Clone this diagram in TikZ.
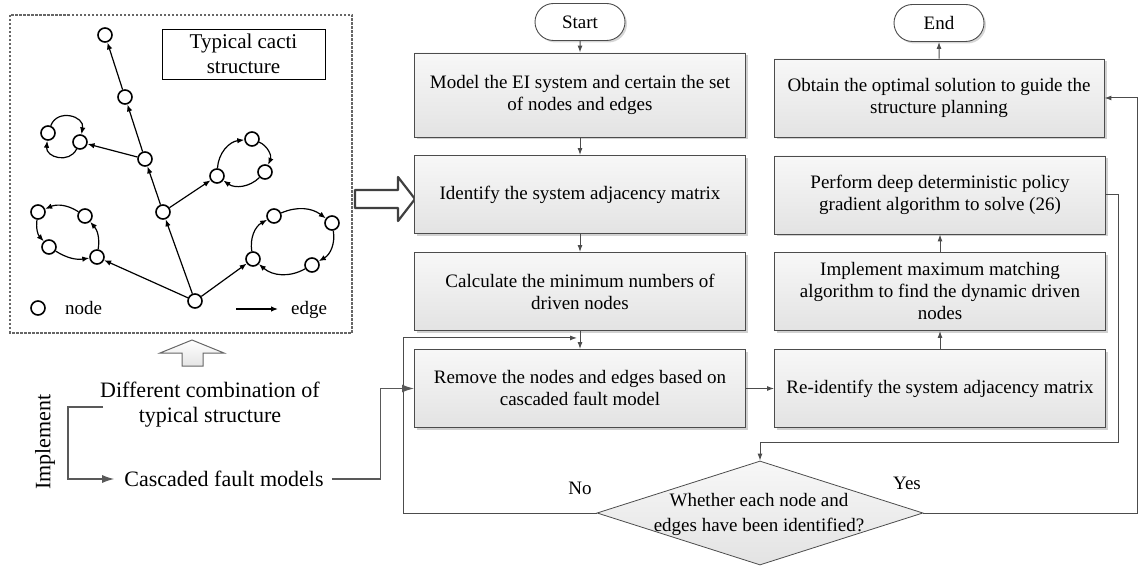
\documentclass[tikz,border=0pt]{standalone}
\usepackage{fontspec}
\setmainfont{Liberation Serif}
\usetikzlibrary{arrows.meta,shapes.geometric,shapes.misc,shadows}

\newcommand{\flowfont}{\fontsize{19}{22}\selectfont}
\newcommand{\sidefont}{\fontsize{22}{25}\selectfont}

\tikzset{
  procbox/.style={draw=black!70, line width=0.9pt, top color=black!3, bottom color=black!11,
    drop shadow={shadow xshift=2.5pt, shadow yshift=-2.5pt, fill=black!40, opacity=0.45},
    minimum width=331pt, minimum height=78pt, inner sep=0pt, align=center, font=\flowfont},
  termbox/.style={rounded rectangle, draw=black!70, line width=0.9pt, fill=white,
    drop shadow={shadow xshift=2pt, shadow yshift=-2pt, fill=black!40, opacity=0.4},
    minimum width=90pt, minimum height=37pt, inner sep=0pt, font=\flowfont},
  decision/.style={diamond, draw=black!70, line width=0.8pt, top color=black!3, bottom color=black!11,
    minimum width=326pt, minimum height=104pt, inner sep=0pt},
  flow/.style={draw=black!70, line width=1pt, -{Latex[length=7pt,width=5pt]}},
  bigflow/.style={flow, draw=black!65, line width=1.3pt, -{Latex[length=12pt,width=8pt]}},
  cnode/.style={circle, draw, line width=1.6pt, fill=white, minimum size=14pt, inner sep=0pt},
  cedge/.style={line width=1.2pt, -{Latex[length=7pt,width=5.5pt]}},
}

\begin{document}
\begin{tikzpicture}[x=1pt,y=1pt]
\useasboundingbox (0,0) rectangle (1138,-569);

% typical cacti structure
\draw[black!60, line width=1.5pt, dash pattern=on 2.5pt off 1.5pt] (10,-15) rectangle (352,-333);
\node[draw, line width=0.8pt, minimum width=163pt, minimum height=50pt, inner sep=0pt, align=center,
  font=\fontsize{21}{25}\selectfont] (title) at (243.5,-54) {Typical cacti\\structure};

\node[cnode] (r0) at (195,-301) {};
\node[cnode] (t1) at (163,-212) {};
\node[cnode] (t2) at (145,-159) {};
\node[cnode] (t3) at (125,-97) {};
\node[cnode] (t4) at (105,-35) {};
\node[cnode] (a1) at (48,-133) {};
\node[cnode] (a2) at (80,-142) {};
\node[cnode] (b1) at (217,-176) {};
\node[cnode] (b2) at (252,-139) {};
\node[cnode] (b3) at (265,-172) {};
\node[cnode] (d1) at (38,-212) {};
\node[cnode] (d2) at (85,-216) {};
\node[cnode] (d3) at (49,-247) {};
\node[cnode] (d4) at (97,-257) {};
\node[cnode] (e1) at (253,-259) {};
\node[cnode] (e2) at (274,-216) {};
\node[cnode] (e3) at (332,-223) {};
\node[cnode] (e4) at (312,-265) {};

\draw[cedge] (r0) -- (t1);
\draw[cedge] (t1) -- (t2);
\draw[cedge] (t2) -- (t3);
\draw[cedge] (t3) -- (t4);
\draw[cedge] (t2) -- (a2);
\draw[cedge] (t1) -- (b1);
\draw[cedge] (r0) -- (d4);
\draw[cedge] (r0) -- (e1);

\draw[cedge] (a1) to[bend left=85, looseness=1.5] (a2);
\draw[cedge] (a2) to[bend left=80, looseness=1.4] (a1);
\draw[cedge] (b1) to[bend left=40] (b2);
\draw[cedge] (b2) to[bend left=45] (b3);
\draw[cedge] (b3) to[bend left=40] (b1);
\draw[cedge] (d4) to[bend right=25] (d2);
\draw[cedge] (d2) to[bend right=28] (d1);
\draw[cedge] (d1) to[bend right=25] (d3);
\draw[cedge] (d3) to[bend right=20] (d4);
\draw[cedge] (e1) to[bend left=35] (e2);
\draw[cedge] (e2) to[bend left=30] (e3);
\draw[cedge] (e3) to[bend left=35] (e4);
\draw[cedge] (e4) to[bend left=35] (e1);

\node[cnode] (keynode) at (38,-308) {};
\node[font=\flowfont, anchor=base west, inner sep=0pt] (keynodetxt) at (65,-315) {node};
\coordinate (keya) at (236,-309);
\coordinate (keyb) at (278,-309);
\draw[cedge] (keya) -- (keyb);
\node[font=\flowfont, anchor=base, inner sep=0pt] (keyedgetxt) at (309,-315) {edge};

% block arrows
\draw[black!75, line width=2.2pt, fill=white, line join=round]
  (355,-190) -- (398,-190) -- (398,-177) -- (415,-199) -- (398,-221) -- (398,-208) -- (355,-208) -- cycle;
\draw[black!60, line width=1pt, top color=white, bottom color=black!10]
  (192,-340) -- (224,-353) -- (203,-353) -- (203,-366) -- (182,-366) -- (182,-353) -- (160,-353) -- cycle;

% left texts
\node[font=\sidefont, align=center, inner sep=0pt] (combo) at (210,-405) {Different combination of\\typical structure};
\node[font=\sidefont, inner sep=0pt] (casc) at (224,-479) {Cascaded fault models};
\node[font=\sidefont, rotate=90, inner sep=0pt] (impl) at (45,-442) {Implement};

% flow chart
\node[termbox] (start) at (580,-22) {Start};
\node[procbox, minimum height=84pt] (L1) at (580,-95) {Model the EI system and certain the set\\of nodes and edges};
\node[procbox] (L2) at (580,-194.5) {Identify the system adjacency matrix};
\node[procbox] (L3) at (580,-291.5) {Calculate the minimum numbers of\\driven nodes};
\node[procbox] (L4) at (580,-388.5) {Remove the nodes and edges based on\\cascaded fault model};

\node[termbox] (end) at (939,-23) {End};
\node[procbox, minimum width=330pt] (R1) at (939,-98) {Obtain the optimal solution to guide the\\structure planning};
\node[procbox] (R2) at (940,-195) {Perform deep deterministic policy\\gradient algorithm to solve (26)};
\node[procbox] (R3) at (940,-291.5) {Implement maximum matching\\algorithm to find the dynamic driven\\nodes};
\node[procbox] (R4) at (940,-388.5) {Re-identify the system adjacency matrix};

\node[decision] (dia) at (760,-513) {};
\node[font=\fontsize{19}{25}\selectfont, align=center, inner sep=0pt] (diatxt) at (759,-514) {Whether each node and\\edges have been identified?};
\node[font=\flowfont] (nolab) at (580,-488) {No};
\node[font=\flowfont] (yeslab) at (907,-483) {Yes};

\draw[flow] (start) -- (L1);
\draw[flow] (L1) -- (L2);
\draw[flow] (L2) -- (L3);
\draw[flow] (L3) -- (L4);
\draw[flow] (L4) -- (R4);
\draw[flow] (R4) -- (R3);
\draw[flow] (R3) -- (R2);
\draw[flow] (R1.north -| end) -- (end);
\draw[flow] (R2.east) -- ++(13,0) |- ([yshift=18pt]dia.north) -- (dia.north);
\draw[flow] (dia.east) -- ++(214,0) |- (R1.east);
\draw[flow] (dia.west) -- ++(-193,0) |- ([xshift=-3pt,yshift=-7pt]L3.south);

\draw[bigflow] ([xshift=3pt,yshift=-2pt]combo.west) -- ++(-35,0) |- ([xshift=-10pt]casc.west);
\draw[bigflow] ([xshift=8pt]casc.east) -- ++(49,0) |- (L4.west);
\end{tikzpicture}
\end{document}
